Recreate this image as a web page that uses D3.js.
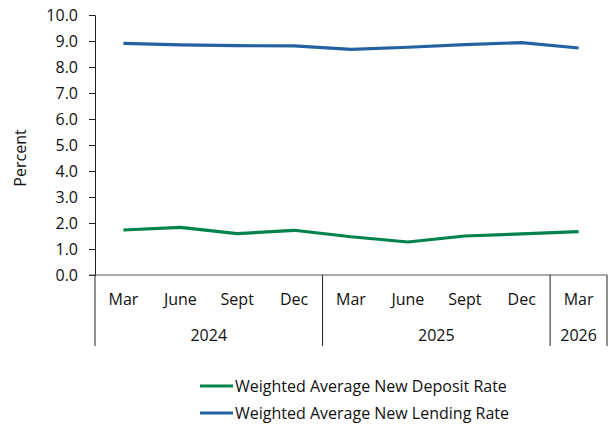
<!DOCTYPE html>
<html>
<head>
<meta charset="utf-8">
<script src="https://cdn.jsdelivr.net/npm/d3@7"></script>
<style>
  body { margin: 0; background: #fff; }
  text { font-family: "Open Sans", "Noto Sans", sans-serif; fill: #111; }
</style>
</head>
<body>
<script>
// categories (quarter labels) and their year groups
const months = ["Mar", "June", "Sept", "Dec", "Mar", "June", "Sept", "Dec", "Mar"];
const years = ["2024", "2024", "2024", "2024", "2025", "2025", "2025", "2025", "2026"];
const yearGroups = ["2024", "2025", "2026"];

// series values (percent)
const depositRate = [1.73, 1.83, 1.59, 1.72, 1.47, 1.27, 1.50, 1.58, 1.67];
const lendingRate = [8.91, 8.85, 8.82, 8.81, 8.68, 8.76, 8.86, 8.94, 8.73];

const seriesNames = ["Weighted Average New Deposit Rate", "Weighted Average New Lending Rate"];
const seriesColors = ["#00834a", "#2461a0"];

const yTicks = [0, 1, 2, 3, 4, 5, 6, 7, 8, 9, 10];

const width = 610;
const height = 428;
const plotLeft = 95, plotRight = 607, plotTop = 15, plotBottom = 275;

const svg = d3.select("body").append("svg")
  .attr("width", width).attr("height", height);

const idx = months.map((d, i) => i);

const xScale = d3.scaleBand()
  .domain(idx)
  .range([plotLeft, plotRight])
  .padding(0);
const bw = xScale.bandwidth();

const yScale = d3.scaleLinear()
  .domain([0, 10])
  .range([plotBottom, plotTop]);

// y axis
const axisy = d3.axisLeft(yScale)
  .tickValues(yTicks)
  .tickSize(6)
  .tickFormat(d3.format(".1f"));

const gy = svg.append("g")
  .attr("transform", "translate(" + plotLeft + ",0)")
  .call(axisy);
gy.select(".domain").attr("stroke", "#222").attr("stroke-width", 1);
gy.selectAll(".tick line").attr("stroke", "#222");
gy.selectAll(".tick text")
  .attr("x", -17)
  .style("font-size", "16px")
  .style("font-family", "'Open Sans', sans-serif")
  .attr("fill", "#111");

// x axis line
svg.append("line")
  .attr("x1", plotLeft - 6).attr("x2", plotRight)
  .attr("y1", plotBottom).attr("y2", plotBottom)
  .attr("stroke", "#555").attr("stroke-width", 1);

// group separators (multi-level category axis)
const groupBounds = [0];
yearGroups.forEach(y => {
  const last = years.lastIndexOf(y);
  groupBounds.push(last + 1);
});
svg.selectAll(".sep")
  .data(groupBounds)
  .enter()
  .append("line")
  .attr("class", "sep")
  .attr("x1", d => d < months.length ? xScale(d) : plotRight)
  .attr("x2", d => d < months.length ? xScale(d) : plotRight)
  .attr("y1", plotBottom)
  .attr("y2", 346)
  .attr("stroke", "#222")
  .attr("stroke-width", 1);

// month labels
svg.selectAll(".month")
  .data(months)
  .enter()
  .append("text")
  .attr("class", "month")
  .attr("x", (d, i) => xScale(i) + bw / 2)
  .attr("y", 305)
  .attr("text-anchor", "middle")
  .style("font-size", "16px")
  .text(d => d);

// year labels
svg.selectAll(".year")
  .data(yearGroups)
  .enter()
  .append("text")
  .attr("class", "year")
  .attr("x", y => {
    const a = years.indexOf(y), b = years.lastIndexOf(y);
    return (xScale(a) + xScale(b) + bw) / 2;
  })
  .attr("y", 341)
  .attr("text-anchor", "middle")
  .style("font-size", "16px")
  .text(d => d);

// y axis title
svg.append("text")
  .attr("transform", "translate(26,158) rotate(-90)")
  .attr("text-anchor", "middle")
  .style("font-size", "16px")
  .text("Percent");

// lines
const line = d3.line()
  .x((d, i) => xScale(i) + bw / 2)
  .y(d => yScale(d));

[depositRate, lendingRate].forEach((s, k) => {
  svg.append("path")
    .datum(s)
    .attr("fill", "none")
    .attr("stroke", seriesColors[k])
    .attr("stroke-width", 3.2)
    .attr("stroke-linejoin", "round")
    .attr("d", line);
});

// legend
const legend = svg.selectAll(".legend")
  .data(seriesNames)
  .enter()
  .append("g")
  .attr("class", "legend")
  .attr("transform", (d, i) => "translate(200," + (386 + i * 27) + ")");
legend.append("line")
  .attr("x1", 0).attr("x2", 33)
  .attr("y1", 0).attr("y2", 0)
  .attr("stroke", (d, i) => seriesColors[i])
  .attr("stroke-width", 3.2);
legend.append("text")
  .attr("x", 35)
  .attr("y", 6)
  .style("font-size", "16px")
  .text(d => d);
</script>
</body>
</html>
